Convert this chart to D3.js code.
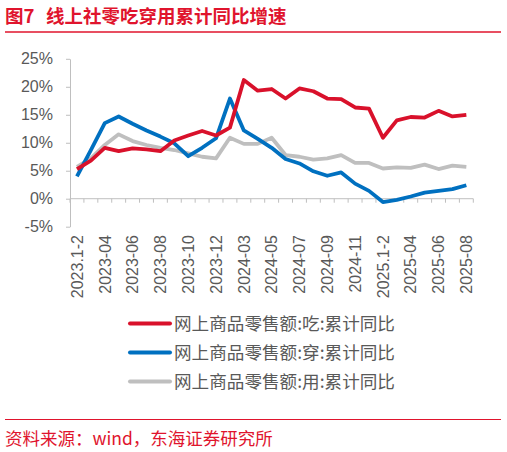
<!DOCTYPE html>
<html>
<head>
<meta charset="utf-8">
<script src="https://cdn.jsdelivr.net/npm/d3@7"></script>
<style>
  body { margin: 0; background: #fff; }
  svg { display: block; font-family: "Liberation Sans", Arial, sans-serif; }
  .cjk { font-family: "Noto Sans CJK SC", "Noto Sans", sans-serif; }
</style>
</head>
<body>
<div id="chart"></div>
<script>
// categories (x axis), every other one labelled
const months = ["2023.1-2","2023-03","2023-04","2023-05","2023-06","2023-07","2023-08","2023-09","2023-10","2023-11","2023-12",
  "2024.1-2","2024-03","2024-04","2024-05","2024-06","2024-07","2024-08","2024-09","2024-10","2024-11","2024-12",
  "2025.1-2","2025-03","2025-04","2025-05","2025-06","2025-07","2025-08"];

// 网上商品零售额 累计同比 (%)
const eat  = [5.3, 6.8, 9.1, 8.5, 9.0, 8.8, 8.5, 10.4, 11.3, 12.1, 11.3, 12.7, 21.2, 19.3, 19.6, 17.9, 19.7, 19.2, 17.9, 17.8, 16.3, 16.1, 10.9, 14.0, 14.6, 14.5, 15.7, 14.7, 15.0];
const wear = [4.0, 8.7, 13.5, 14.7, 13.4, 12.2, 11.1, 9.9, 7.6, 9.1, 10.8, 17.9, 12.2, 10.7, 9.1, 7.1, 6.3, 4.9, 4.1, 4.7, 2.7, 1.4, -0.6, -0.2, 0.4, 1.1, 1.4, 1.7, 2.4];
const use  = [5.7, 7.2, 9.6, 11.5, 10.3, 9.6, 9.1, 8.7, 8.1, 7.5, 7.2, 10.9, 9.8, 9.8, 10.9, 7.8, 7.5, 7.0, 7.2, 7.8, 6.4, 6.4, 5.4, 5.6, 5.5, 6.1, 5.3, 5.9, 5.7];

const yTicks = [-5, 0, 5, 10, 15, 20, 25];

const series = [
  {name: "网上商品零售额:吃:累计同比", values: eat,  color: "#D9112B"},
  {name: "网上商品零售额:穿:累计同比", values: wear, color: "#0070C0"},
  {name: "网上商品零售额:用:累计同比", values: use,  color: "#BFBFBF"}
];

const W = 507, H = 452;
const red = "#E0142D", axisGrey = "#BFBFBF", textGrey = "#595959";

const svg = d3.select("#chart").append("svg")
  .attr("width", W).attr("height", H);

// title + rule
svg.append("text").attr("class", "cjk")
  .attr("x", 5).attr("y", 23)
  .attr("fill", red).attr("font-size", 18.5).attr("font-weight", "bold")
  .text("图7");
svg.append("text").attr("class", "cjk")
  .attr("x", 46).attr("y", 23)
  .attr("fill", red).attr("font-size", 18.5).attr("font-weight", "bold")
  .text("线上社零吃穿用累计同比增速");
svg.append("line")
  .attr("x1", 5).attr("x2", 501).attr("y1", 32).attr("y2", 32)
  .attr("stroke", red).attr("stroke-width", 1.5);

// scales
const x = d3.scaleBand().domain(months).range([70, 473.3]).padding(0);
const y = d3.scaleLinear().domain([-5, 25]).range([226.7, 58.8]);
const cx = d => x(d) + x.bandwidth() / 2;

// y axis
const yAxis = d3.axisLeft(y)
  .tickValues(yTicks)
  .tickSize(4)
  .tickSizeOuter(0)
  .tickPadding(13)
  .tickFormat(d => d + "%");

const gy = svg.append("g")
  .attr("transform", "translate(70,0)")
  .call(yAxis);
gy.select(".domain").attr("stroke", axisGrey);
gy.selectAll(".tick line").attr("stroke", axisGrey);
gy.selectAll(".tick text")
  .attr("fill", textGrey)
  .attr("font-size", 16)
  .attr("font-family", "'Liberation Sans', Arial, sans-serif");

// x axis at 0%, ticks on category boundaries
const gx = svg.append("g")
  .attr("transform", "translate(0," + y(0) + ")");
gx.append("line")
  .attr("x1", x.range()[0]).attr("x2", x.range()[1])
  .attr("stroke", axisGrey);
gx.selectAll(".bound")
  .data(months.map(m => x(m)).concat([x.range()[1]]))
  .enter().append("line")
  .attr("class", "bound")
  .attr("x1", d => d).attr("x2", d => d)
  .attr("y1", 0).attr("y2", 4)
  .attr("stroke", axisGrey);

// rotated month labels
svg.append("g").selectAll("text")
  .data(months.filter((m, i) => i % 2 === 0))
  .enter().append("text")
  .attr("transform", d => "translate(" + cx(d) + ",235) rotate(-90)")
  .attr("text-anchor", "end")
  .attr("dy", "0.36em")
  .attr("fill", textGrey)
  .attr("font-size", 16)
  .text(d => d);

// lines (grey first so red/blue sit on top)
const line = d3.line()
  .x((d, i) => cx(months[i]))
  .y(d => y(d));

svg.append("g").selectAll("path")
  .data([series[2], series[1], series[0]])
  .enter().append("path")
  .attr("d", d => line(d.values))
  .attr("fill", "none")
  .attr("stroke", d => d.color)
  .attr("stroke-width", 3.8)
  .attr("stroke-linejoin", "round");

// legend
const legend = svg.append("g").selectAll("g")
  .data(series)
  .enter().append("g")
  .attr("transform", (d, i) => "translate(130," + (323.5 + i * 29) + ")");
legend.append("line")
  .attr("x1", 0).attr("x2", 40)
  .attr("stroke", d => d.color)
  .attr("stroke-width", 4)
  .attr("stroke-linecap", "round");
legend.append("text").attr("class", "cjk")
  .attr("x", 44).attr("dy", "0.35em")
  .attr("fill", textGrey)
  .attr("font-size", 17.6)
  .text(d => d.name);

// footer
svg.append("line")
  .attr("x1", 5).attr("x2", 501).attr("y1", 419.5).attr("y2", 419.5)
  .attr("stroke", red).attr("stroke-width", 1.2);
svg.append("text").attr("class", "cjk")
  .attr("x", 5).attr("y", 445)
  .attr("fill", red).attr("font-size", 17.5)
  .text("资料来源：wind，东海证券研究所");
</script>
</body>
</html>
